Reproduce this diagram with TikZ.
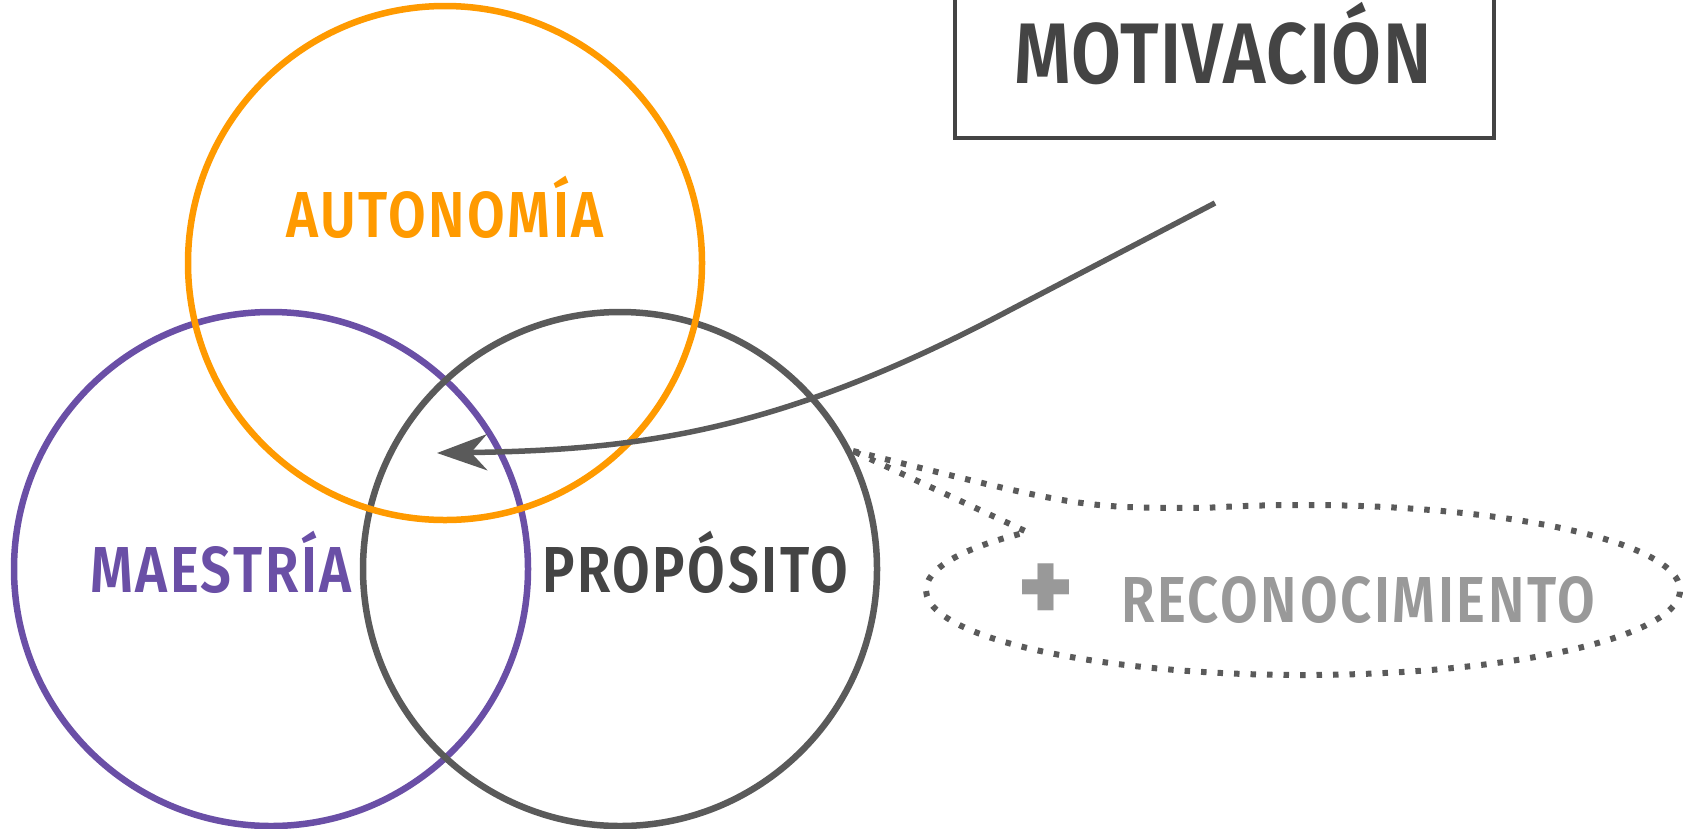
\documentclass[tikz,border=0pt]{standalone}
\usepackage{fontspec}
\setmainfont{Fira Sans SemiBold}[FakeStretch=0.84, LetterSpace=4]
\newfontfamily\titulofont{Fira Sans SemiBold}[FakeStretch=0.84, LetterSpace=1.5]
\newfontfamily\signofont{Fira Sans Black}
\usetikzlibrary{arrows.meta,calc}
\definecolor{naranja}{HTML}{FF9A00}
\definecolor{morado}{HTML}{6A4FA6}
\definecolor{grisoscuro}{HTML}{444444}
\definecolor{grisaro}{HTML}{5A5A5A}
\definecolor{grisclaro}{HTML}{999999}
\begin{document}
\begin{tikzpicture}[x=1pt,y=-1pt,
  ring/.style={circle, draw, line width=6.5pt, minimum size=514pt, inner sep=0pt},
  lbl/.style={font=\fontsize{65}{70}\selectfont, inner sep=0pt, anchor=base},
  dotline/.style={draw=grisaro, line width=6pt, dash pattern=on 5.5pt off 11pt}]
\useasboundingbox (0,0) rectangle (1693,828);
% circulos
\node[ring, draw=morado] (maestria) at (271,569) {};
\node[ring, draw=grisaro] (proposito) at (620,569) {};
\node[ring, draw=naranja] (autonomia) at (445,263) {};
% etiquetas
\node[lbl, text=naranja] (tautonomia) at (445,237) {AUTONOMÍA};
\node[lbl, text=morado] (tmaestria) at (221,592) {MAESTRÍA};
\node[lbl, text=grisoscuro] (tproposito) at (695,592) {PROPÓSITO};
% caja
\node[draw=grisoscuro, line width=4.5pt, minimum width=539pt, minimum height=160pt, inner sep=0pt] (caja) at (1224.5,58) {};
\node[lbl, font=\fontsize{86}{90}\titulofont, text=grisoscuro] (tmotivacion) at (1223,83) {MOTIVACIÓN};
% flecha
\coordinate (flechaini) at (1215,203);
\coordinate (codo) at (1010,310);
\coordinate (flechafin) at (437,453);
\draw[grisaro, line width=5.5pt, -{Stealth[length=50pt, width=36pt, inset=16pt]}]
  (flechaini) -- (codo) .. controls (780,432) and (640,450) .. (flechafin);
% reconocimiento
\coordinate (elipse) at (1303,590);
\coordinate (punta) at (853,451);
\coordinate (colaarriba) at ($(elipse)+(105:377pt and 85pt)$);
\coordinate (colaabajo) at ($(elipse)+(137:377pt and 85pt)$);
\draw[dotline] (punta) .. controls (1080,508) .. (colaarriba)
  arc[start angle=105, end angle=-223, x radius=377pt, y radius=85pt] -- (punta);
\node[lbl, font=\fontsize{100}{100}\signofont, text=grisclaro, anchor=center] (mas) at (1046,592) {+};
\node[lbl, text=grisclaro] (treconocimiento) at (1358,622) {RECONOCIMIENTO};
\end{tikzpicture}
\end{document}
